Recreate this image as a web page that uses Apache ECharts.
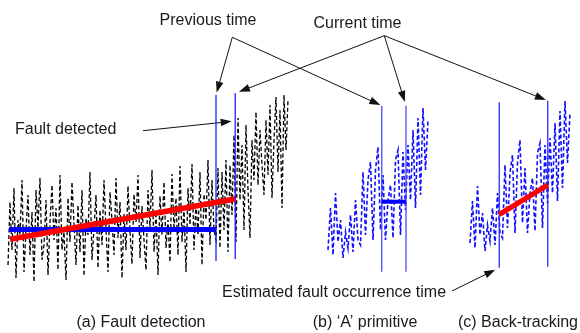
<!DOCTYPE html>
<html>
<head>
<meta charset="utf-8">
<script src="https://cdn.jsdelivr.net/npm/echarts@6/dist/echarts.min.js"></script>
<style>
  html, body { margin: 0; padding: 0; background: #fff; }
  #c { width: 580px; height: 333px; }
</style>
</head>
<body>
<div id="c"></div>
<script>
// Residual signal over the full observation window (panel a)
const detectSignal = [
  25, 88, 40, 102, 12, 70, 55, 110, 18, 60,
  95, 35, 78, 8, 100, 62, 112, 30, 45, 90,
  15, 68, 105, 50, 82, 20, 115, 40, 58, 10,
  92, 48, 108, 66, 25, 85, 38, 100, 14, 72,
  55, 118, 30, 62, 95, 22, 80, 45, 110, 60,
  18, 98, 70, 35, 112, 52, 88, 12, 76, 40,
  104, 58, 26, 96, 68, 115, 32, 84, 50, 20,
  100, 62, 120, 38, 78, 15, 94, 55, 108, 42,
  70, 28, 116, 60, 92, 35, 124, 48, 82, 18,
  102, 65, 126, 40, 88, 55, 118, 25, 96, 70,
  130, 45, 110, 60, 50,
  122, 42, 118, 60, 130, 38, 125, 75, 155, 48,
  172, 90, 145, 60, 165, 100, 52, 150, 110, 178,
  105, 160, 125, 95, 170, 115, 185, 92, 150, 193,
  118, 180, 82, 195, 140, 190
];

// Short window around the detection (panels b and c)
const windowSignal = [
  20, 62, 15, 77, 28, 50, 12, 38, 22, 55,
  18, 70, 30, 25, 98, 35, 90, 108, 30, 100,
  123, 40, 95, 30, 70, 85, 32, 110, 120, 35,
  118, 60, 125, 70, 140, 62, 152, 75, 162, 100,
  150
];

// Previous / current time positions (sample index) per panel
const timesA = [104, 113.6];
const timesB = [21.5, 31.2];
const timesC = [11.7, 31.1];

// Vertical extent of the time markers [bottom, top] per panel
const markerSpanA = [[29, 195], [31, 196.7]];
const markerSpanB = [[-1.7, 164.3], [-1.7, 164.3]];
const markerSpanC = [[-4.7, 160.7], [-3.7, 162.3]];

// Panel a: mean level up to previous time, linear trend up to current time
const baselineA = [[0.5, 60.5], [104, 60.5]];
const trendA = [[1, 50.7], [113.5, 91]];
// Panel b: level between previous and current time
const levelB = [[21.5, 68.3], [31.2, 68.3]];
// Panel c: back-tracked trend
const trendC = [[11.7, 48.5], [31.1, 78]];

// Where the "Fault detected" arrow meets the current-time marker of panel a
const detectPointA = [113.6, 169];

const FONT = '16px "Liberation Sans", Arial, Helvetica, sans-serif';
const TEXT = '#1a1a1a';

const chart = echarts.init(document.getElementById('c'), null, { renderer: 'canvas' });

const hiddenAxis = (min, max, gridIndex) => ({
  type: 'value', min, max, gridIndex, show: false,
  splitLine: { show: false }, axisLine: { show: false }, axisTick: { show: false }, axisLabel: { show: false }
});

function seg(idx, pts, color, width, z, dash) {
  return {
    type: 'line', xAxisIndex: idx, yAxisIndex: idx, data: pts,
    symbol: 'none', showSymbol: false, silent: true, z,
    lineStyle: { color, width, type: dash || 'solid', cap: 'butt', join: 'miter' },
    animation: false
  };
}

const asPoints = arr => arr.map((v, i) => [i, v]);

const series = [
  // panel a
  seg(0, asPoints(detectSignal), '#000', 1.3, 2, [4, 2.5]),
  seg(0, [[timesA[0], markerSpanA[0][0]], [timesA[0], markerSpanA[0][1]]], '#1f1fff', 1.3, 3),
  seg(0, [[timesA[1], markerSpanA[1][0]], [timesA[1], markerSpanA[1][1]]], '#1f1fff', 1.3, 3),
  seg(0, baselineA, '#0000ff', 5, 4),
  seg(0, trendA, '#ff0000', 5.5, 5),
  // panel b
  seg(1, asPoints(windowSignal), '#1010ff', 1.6, 2, [4, 2.5]),
  seg(1, [[timesB[0], markerSpanB[0][0]], [timesB[0], markerSpanB[0][1]]], '#4a4aff', 1.3, 3),
  seg(1, [[timesB[1], markerSpanB[1][0]], [timesB[1], markerSpanB[1][1]]], '#4a4aff', 1.3, 3),
  seg(1, levelB, '#0000ff', 4, 4),
  // panel c
  seg(2, asPoints(windowSignal), '#1010ff', 1.6, 2, [4, 2.5]),
  seg(2, [[timesC[0], markerSpanC[0][0]], [timesC[0], markerSpanC[0][1]]], '#2a2aff', 1.3, 3),
  seg(2, [[timesC[1], markerSpanC[1][0]], [timesC[1], markerSpanC[1][1]]], '#2a2aff', 1.3, 3),
  seg(2, trendC, '#ff0000', 5, 5)
];

chart.setOption({
  animation: false,
  backgroundColor: '#fff',
  grid: [
    { left: 8, top: 90, width: 280, height: 200, show: false },
    { left: 328, top: 100, width: 100, height: 180, show: false },
    { left: 470, top: 93, width: 100, height: 180, show: false }
  ],
  xAxis: [hiddenAxis(0, 140, 0), hiddenAxis(0, 40, 1), hiddenAxis(0, 40, 2)],
  yAxis: [hiddenAxis(0, 200, 0), hiddenAxis(-10, 170, 1), hiddenAxis(-10, 170, 2)],
  series
});

// Annotation arrows: anchored to the marker ends in each panel
const px = (g, p) => chart.convertToPixel({ gridIndex: g }, p);

function arrow(from, to, gap) {
  const dx = to[0] - from[0], dy = to[1] - from[1];
  const len = Math.hypot(dx, dy);
  const ux = dx / len, uy = dy / len;
  const tip = [to[0] - ux * gap, to[1] - uy * gap];
  const headLen = 11, half = 3.8;
  const base = [tip[0] - ux * headLen, tip[1] - uy * headLen];
  return [
    { type: 'line', shape: { x1: from[0], y1: from[1], x2: base[0] + ux, y2: base[1] + uy },
      style: { stroke: '#111', lineWidth: 1 }, silent: true },
    { type: 'polygon', shape: { points: [tip,
        [base[0] - uy * half, base[1] + ux * half],
        [base[0] + uy * half, base[1] - ux * half]] },
      style: { fill: '#111' }, silent: true }
  ];
}

const prevApex = [232.3, 37.3];
const curApex = [384.3, 35.7];
const faultFrom = [143, 130.7];
const estFrom = [452, 291];

const text = (s, x, y, align) => ({
  type: 'text', x, y, silent: true,
  style: { text: s, font: FONT, fill: TEXT, align: align || 'center', verticalAlign: 'middle' }
});

const graphic = [
  text('Previous time', 208, 21),
  text('Current time', 357.5, 24),
  text('Fault detected', 15, 130, 'left'),
  text('Estimated fault occurrence time', 222, 293, 'left'),
  text('(a) Fault detection', 141, 323),
  text('(b) \u2018A\u2019 primitive', 365, 323),
  text('(c) Back-tracking', 518, 323),
  ...arrow(prevApex, px(0, [timesA[0], markerSpanA[0][1]]), 2.5),
  ...arrow(prevApex, px(1, [timesB[0], markerSpanB[0][1]]), 1.5),
  ...arrow(curApex, px(0, [timesA[1], markerSpanA[1][1]]), 4),
  ...arrow(curApex, px(1, [timesB[1], markerSpanB[1][1]]), 4),
  ...arrow(curApex, px(2, [timesC[1], markerSpanC[1][1]]), 2),
  ...arrow(faultFrom, px(0, detectPointA), 3.5),
  ...arrow(estFrom, px(2, [timesC[0], markerSpanC[0][0]]), 4.5)
];

chart.setOption({ graphic });
</script>
</body>
</html>
